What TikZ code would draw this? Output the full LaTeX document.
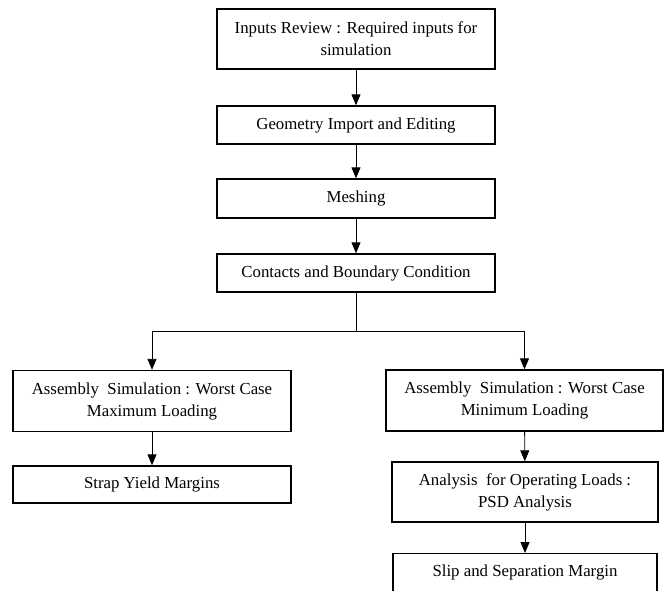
\documentclass[tikz,border=0pt]{standalone}
\usepackage{fontspec}
\setmainfont{Liberation Serif}
\usetikzlibrary{arrows.meta}
\def\boxw{278pt}
\def\lineh{38pt}
\def\twolineh{61pt}

\begin{document}
\begin{tikzpicture}[x=1pt,y=-1pt,
	step box/.style={rectangle,draw,line width=1.4pt,minimum width=\boxw,minimum height=\lineh,inner sep=2pt,align=center,font=\fontsize{16.8}{22}\selectfont},
	flow/.style={-{Triangle[width=9pt,length=11pt]},line width=0.9pt}
	]
	\useasboundingbox (0,0) rectangle (666,590);
	
	\node[step box, minimum height=60pt] (inputs) at (356,39) {Inputs Review : Required inputs for\\simulation};
	\node[step box] (geometry) at (356,125) {Geometry Import and Editing};
	\node[step box, minimum height=39pt] (meshing) at (356,198.5) {Meshing};
	\node[step box] (contacts) at (356,273) {Contacts and Boundary Condition};
	
	\node[step box, minimum height=\twolineh] (maxload) at (152,401) {Assembly\ \ Simulation : Worst Case\\Maximum Loading};
	\node[step box, minimum height=\twolineh, minimum width=277pt] (minload) at (524.5,400.5) {Assembly\ \ Simulation : Worst Case\\Minimum Loading};
	
	\node[step box, minimum height=37pt] (strap) at (152,484.5) {Strap Yield Margins};
	\node[step box, minimum height=60pt, minimum width=266pt] (psd) at (525,492) {Analysis\ \ for Operating Loads :\\PSD Analysis};
	\node[step box, minimum width=264pt, anchor=north] (slip) at (525,553) {Slip and Separation Margin};
	
	\draw[flow] (inputs) -- (geometry);
	\draw[flow] (geometry) -- (meshing);
	\draw[flow] (meshing) -- (contacts);
	
	\coordinate (split) at (356,331);
	\draw[line width=0.9pt] (contacts) -- (split);
	\draw[flow] (split) -| (maxload);
	\draw[flow] (split) -| (minload);
	
	\draw[flow] (maxload) -- (strap);
	\draw[flow] (minload) -- (psd);
	\draw[flow] (psd) -- (slip);
\end{tikzpicture}
\end{document}
